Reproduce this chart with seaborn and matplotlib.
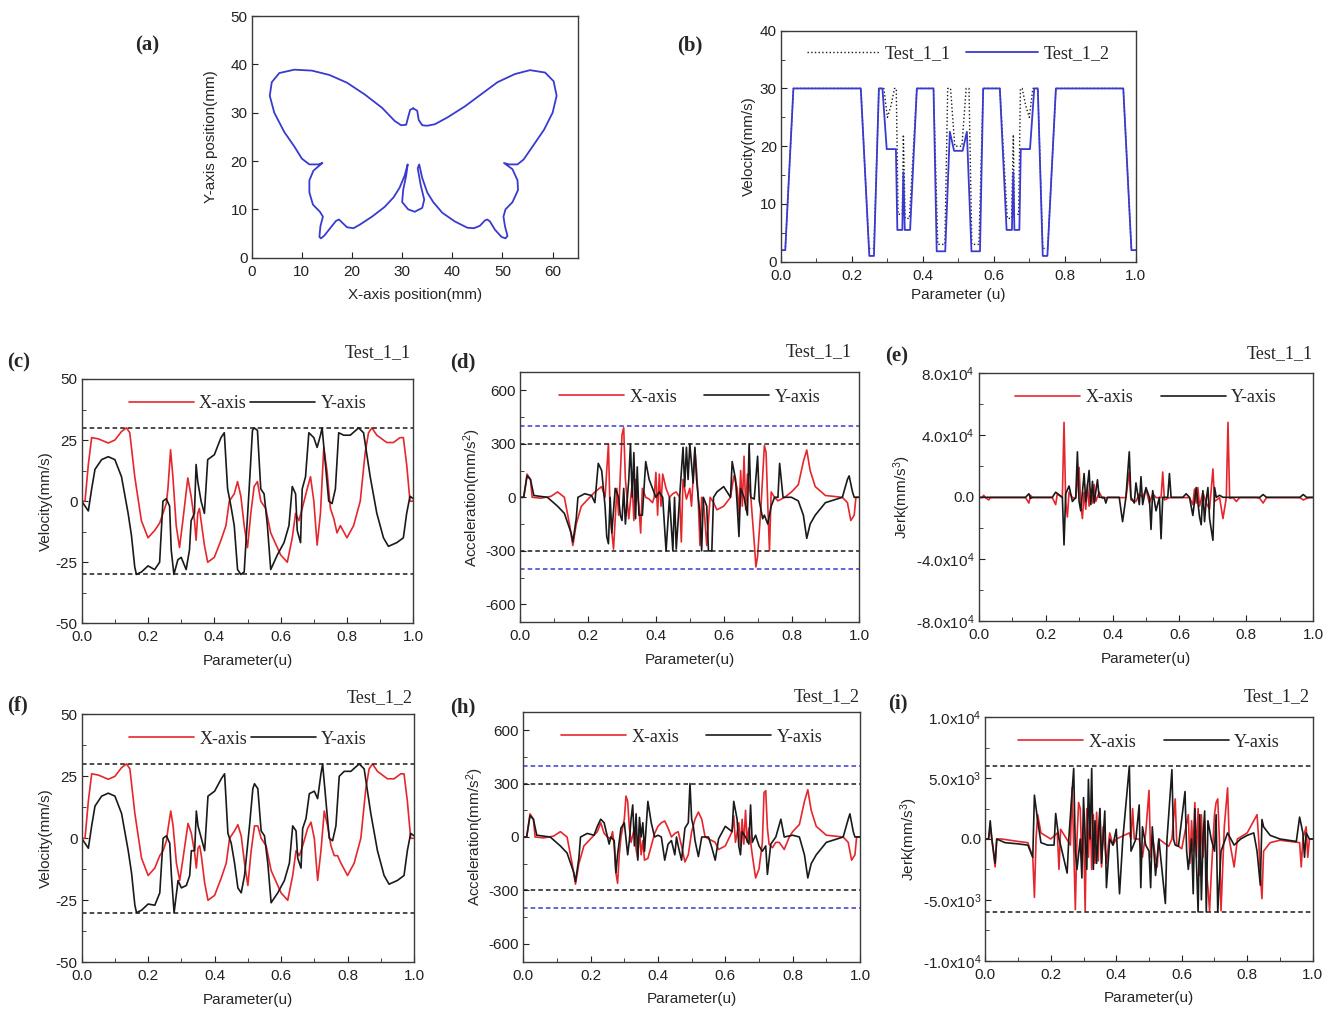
import numpy as np
import pandas as pd
import matplotlib
matplotlib.use("Agg")
import matplotlib.pyplot as plt
from matplotlib.ticker import MultipleLocator
import seaborn as sns

# ---------------- DATA ----------------
# (a) butterfly outline (mm)
bfly_x = [32.2, 33.0, 33.3, 34.0, 35.0, 36.5, 39.0, 42.5, 46.0, 49.0, 52.5, 55.5, 58.5, 60.2, 60.8,
          60.0, 58.3, 56.0, 54.2, 53.0, 51.3, 50.3, 52.0, 53.0, 53.1, 52.0, 50.6, 50.2, 50.5, 51.0,
          50.6, 49.8, 48.5, 47.5, 47.0, 46.5, 45.5, 44.3, 43.0, 40.5, 38.0, 36.2, 35.0, 34.0, 33.4,
          33.1, 33.7, 34.4, 34.0, 32.5, 31.2, 30.0, 30.2, 30.8, 31.1, 30.5, 29.5, 28.3, 26.5, 24.0,
          21.5, 20.3, 19.0, 18.0, 17.4, 16.8, 15.8, 14.5, 13.8, 13.5, 13.7, 14.2, 13.6, 12.2, 11.5,
          11.5, 12.3, 14.1, 13.3, 11.5, 10.0, 8.5, 6.5, 4.5, 3.6, 4.0, 5.5, 8.5, 12.0, 15.5,
          19.0, 22.5, 26.0, 28.5, 29.8, 30.8, 31.3, 31.6, 32.2]
bfly_y = [30.9, 30.4, 28.5, 27.4, 27.3, 27.6, 29.0, 31.3, 34.0, 36.3, 38.0, 38.8, 38.3, 36.5, 33.5,
          30.0, 26.5, 23.0, 20.3, 19.3, 19.3, 19.6, 18.3, 16.0, 14.0, 11.5, 10.0, 8.5, 6.5, 4.5,
          4.0, 4.3, 5.8, 7.5, 7.9, 7.7, 6.6, 6.1, 6.2, 7.5, 9.3, 11.5, 13.5, 16.5, 19.3,
          18.5, 15.0, 12.0, 10.3, 9.5, 10.0, 11.5, 14.0, 17.0, 19.3, 17.0, 14.5, 12.5, 10.5, 8.5,
          6.8, 6.1, 6.3, 7.3, 7.9, 7.6, 6.3, 4.6, 4.0, 4.3, 6.5, 8.5, 9.5, 11.0, 13.5,
          16.0, 18.0, 19.6, 19.3, 19.3, 20.5, 23.0, 26.0, 30.0, 33.5, 36.3, 38.2, 38.9, 38.7, 37.8,
          36.2, 33.8, 31.0, 28.3, 27.4, 27.5, 29.5, 30.6, 30.9]

# (b) feedrate profiles
b2_u = [0.0, 0.012, 0.035, 0.225, 0.249, 0.262, 0.276, 0.286, 0.298, 0.324, 0.328, 0.342, 0.345, 0.349,
        0.364, 0.383, 0.430, 0.439, 0.463, 0.476, 0.488, 0.512, 0.524, 0.537, 0.561, 0.570, 0.617,
        0.636, 0.651, 0.655, 0.658, 0.672, 0.676, 0.702, 0.714, 0.724, 0.738, 0.751, 0.775, 0.965,
        0.988, 1.0]
b2_v = [2.0, 2.0, 30, 30, 1.0, 1.0, 30, 30, 19.5, 19.5, 5.5, 5.5, 15.5, 5.5,
        5.5, 30, 30, 1.8, 1.8, 22.5, 19.2, 19.2, 22.5, 1.8, 1.8, 30, 30,
        5.5, 5.5, 15.5, 5.5, 5.5, 19.5, 19.5, 30, 30, 1.0, 1.0, 30, 30,
        2.0, 2.0]
b1_u = [0.0, 0.012, 0.035, 0.225, 0.248, 0.262, 0.276, 0.29, 0.30, 0.31, 0.32, 0.325, 0.33, 0.342,
        0.345, 0.35, 0.362, 0.383, 0.43, 0.442, 0.462, 0.47, 0.478, 0.49, 0.51, 0.522, 0.53, 0.538,
        0.558, 0.57, 0.617, 0.638, 0.65, 0.655, 0.658, 0.67, 0.675, 0.68, 0.69, 0.70, 0.71, 0.724,
        0.738, 0.752, 0.775, 0.965, 0.988, 1.0]
b1_v = [2.0, 2.0, 30, 30, 2.3, 2.3, 30, 30, 25, 27, 30, 30, 8.2, 8.2,
        22, 7.5, 7.5, 30, 30, 3, 3, 30, 30, 20, 20, 30, 30, 3,
        3, 30, 30, 7.5, 7.5, 22, 8.2, 8.2, 30, 30, 27, 25, 30, 30,
        2.3, 2.3, 30, 30, 2.0, 2.0]

# (c) axis velocities Test_1_1
c_x_u = [0.0, 0.01, 0.02, 0.03, 0.05, 0.08, 0.10, 0.12, 0.135, 0.145, 0.16, 0.18, 0.20, 0.22, 0.235,
         0.245, 0.255, 0.26, 0.268, 0.275, 0.285, 0.295, 0.305, 0.32, 0.33, 0.34, 0.345, 0.35, 0.355,
         0.36, 0.37, 0.38, 0.40, 0.42, 0.435, 0.445, 0.46, 0.47, 0.48, 0.49, 0.50, 0.51, 0.52, 0.53,
         0.54, 0.555, 0.57, 0.60, 0.62, 0.635, 0.645, 0.655, 0.665, 0.68, 0.69, 0.70, 0.71, 0.72,
         0.73, 0.74, 0.75, 0.76, 0.77, 0.78, 0.80, 0.82, 0.84, 0.855, 0.865, 0.875, 0.89, 0.92,
         0.94, 0.96, 0.97, 0.98, 0.99, 1.0]
c_x_v = [0, 0, 15, 26, 25.5, 23.8, 25, 28.5, 30, 28, 10, -8, -15, -12, -9,
         -5, -1, 5, 21, 10, -10, -19, -8, 9.5, 2, -8, -16, -5, -3,
         -8, -18, -25, -23, -16, -10, 0, 3, 8, 2, -10, -19, -5, 6, 8,
         0, -3, -13, -22, -25, -15, -5, -8, -3, 5, 10, 0, -18, -5,
         22, 12, -3, -7, -13, -10, -15, -10, 0, 20, 28, 30, 27, 24,
         24, 26, 26, 15, 0, 0]
c_y_u = [0.0, 0.01, 0.02, 0.03, 0.04, 0.06, 0.08, 0.10, 0.12, 0.14, 0.15, 0.16, 0.165, 0.18, 0.20,
         0.22, 0.235, 0.245, 0.255, 0.265, 0.27, 0.278, 0.29, 0.30, 0.315, 0.325, 0.33, 0.34, 0.345,
         0.35, 0.36, 0.37, 0.38, 0.40, 0.42, 0.43, 0.44, 0.45, 0.46, 0.47, 0.48, 0.49, 0.505, 0.515,
         0.52, 0.53, 0.54, 0.55, 0.56, 0.57, 0.59, 0.61, 0.625, 0.635, 0.645, 0.65, 0.66, 0.665,
         0.675, 0.685, 0.70, 0.71, 0.72, 0.725, 0.735, 0.745, 0.755, 0.765, 0.775, 0.79, 0.81, 0.835,
         0.85, 0.87, 0.89, 0.91, 0.925, 0.95, 0.97, 0.98, 0.99, 1.0]
c_y_v = [0, -2, -4, 5, 13, 17, 18.2, 17, 10, -5, -14, -27, -30, -29, -26.5,
         -28, -25, 0, 1, -2, -20, -30, -24, -23, -28, -20, -8, -5, 15,
         8, 0, -5, 17, 19, 26, 28, 5, -2, -10, -28, -30, -29, 5, 29,
         30, 29, 5, 3, -10, -28, -22, -17, -10, 6, 3, -12, -17, 5,
         10, 28, 26, 22, 27, 30, 15, 0, -1, 5, 28, 27, 27, 30,
         28, 10, -5, -15, -18.5, -17, -15, -5, 2, 1]

# (f) axis velocities Test_1_2
f_x_u = c_x_u
f_x_v = [0, 0, 15, 26, 25.5, 23.8, 25, 28.5, 30, 28, 10, -8, -15, -12, -7,
         -5, -1, 4, 11, 5, -10, -17, -8, 6, 2, -6, -12, -4, -3,
         -7, -18, -25, -23, -16, -10, 0, 3, 5.5, 1, -10, -19, -5, 5, 5,
         0, -3, -13, -22, -25, -15, -5, -7, -3, 4, 6.5, 0, -17, -5,
         11, 5, -3, -7, -7, -10, -15, -10, 0, 20, 28, 30, 27, 24,
         24, 26, 26, 15, 0, 0]
f_y_u = c_y_u
f_y_v = [0, -2, -4, 5, 13, 17, 18.2, 17, 10, -5, -14, -27, -30, -29, -26.5,
         -27, -22, 0, 1, -2, -15, -30, -17, -20, -19, -15, -5, -5, 11,
         5, 0, -5, 17, 19, 24, 26, 2, -2, -10, -20, -22, -15, 5, 20,
         22, 20, 3, 1, -10, -26, -22, -17, -10, 5, 3, -8, -12, 4,
         8, 18, 19, 16, 26, 30, 15, 0, -1, 5, 25, 27, 27, 30,
         28, 10, -5, -15, -18.5, -17, -15, -5, 2, 1]

# (d) accelerations Test_1_1
d_x_u = [0.0, 0.01, 0.02, 0.03, 0.035, 0.06, 0.09, 0.11, 0.13, 0.145, 0.155, 0.165, 0.18, 0.20, 0.22,
         0.24, 0.25, 0.26, 0.265, 0.275, 0.285, 0.29, 0.30, 0.305, 0.31, 0.32, 0.33, 0.335, 0.34,
         0.35, 0.355, 0.36, 0.37, 0.38, 0.39, 0.395, 0.40, 0.405, 0.41, 0.415, 0.42, 0.43, 0.44,
         0.45, 0.46, 0.47, 0.475, 0.48, 0.49, 0.50, 0.505, 0.515, 0.52, 0.525, 0.53, 0.535, 0.54,
         0.55, 0.56, 0.57, 0.58, 0.60, 0.62, 0.63, 0.64, 0.645, 0.65, 0.655, 0.66, 0.665, 0.67,
         0.68, 0.69, 0.695, 0.70, 0.71, 0.72, 0.725, 0.73, 0.735, 0.74, 0.75, 0.76, 0.78, 0.80,
         0.82, 0.835, 0.845, 0.855, 0.87, 0.90, 0.95, 0.965, 0.975, 0.985, 0.99, 1.0]
d_x_v = [0, 0, 130, 100, 0, -5, 5, 30, 0, -150, -270, -150, -50, -10, 30,
         60, 0, 300, -100, -290, 50, -100, 350, 390, 100, -120, 80, -130, 100,
         -50, -200, 50, 0, -10, -30, 0, 140, -100, 130, -50, 130, 50, 0,
         20, 30, 0, -250, 100, -10, 50, -50, 270, 150, -20, -270, 0, -10,
         -270, 0, -30, -70, -50, 0, 120, 50, -100, 150, -50, 230, -70, 130,
         0, -250, -390, -330, -50, 290, 250, -40, -300, 30, 0, -20, 0, 30,
         70, 200, 265, 150, 60, 10, 0, -30, -130, -100, 0, 0]
d_y_u = [0.0, 0.01, 0.02, 0.03, 0.04, 0.08, 0.11, 0.13, 0.15, 0.155, 0.165, 0.17, 0.19, 0.21, 0.22,
         0.23, 0.24, 0.25, 0.255, 0.26, 0.265, 0.27, 0.28, 0.29, 0.295, 0.30, 0.305, 0.31, 0.32,
         0.325, 0.33, 0.335, 0.34, 0.345, 0.35, 0.36, 0.37, 0.38, 0.39, 0.40, 0.41, 0.42, 0.43,
         0.44, 0.45, 0.455, 0.46, 0.47, 0.48, 0.485, 0.49, 0.495, 0.50, 0.51, 0.515, 0.52, 0.53,
         0.535, 0.54, 0.55, 0.555, 0.565, 0.57, 0.58, 0.60, 0.62, 0.625, 0.635, 0.64, 0.645, 0.65,
         0.66, 0.67, 0.675, 0.68, 0.69, 0.70, 0.705, 0.715, 0.72, 0.73, 0.74, 0.75, 0.76, 0.765,
         0.775, 0.80, 0.82, 0.835, 0.845, 0.855, 0.87, 0.90, 0.95, 0.965, 0.97, 0.98, 0.985, 1.0]
d_y_v = [0, 0, 120, 100, 10, 0, -50, -90, -200, -250, -120, 0, 20, 10, -30,
         190, 150, -50, -220, -260, 0, -200, 50, 0, -100, -130, 50, -150, 100,
         300, 0, 250, -120, 170, -100, -100, 200, 100, 50, 0, 30, 0, -300,
         0, -300, 0, -290, 0, 280, 60, 280, 100, 300, 80, 280, 100, -100,
         -300, 0, -50, -300, -300, 0, 30, 60, 0, 200, 100, -50, -220, 50,
         0, -100, 300, 0, -10, 230, -20, -120, -100, -150, -50, 0, 0, 190,
         0, 0, -20, -100, -230, -150, -100, -30, 0, 100, 120, 30, 0, 0]

# (h) accelerations Test_1_2
h_x_u = [0.0, 0.01, 0.02, 0.03, 0.035, 0.06, 0.09, 0.11, 0.13, 0.145, 0.155, 0.165, 0.18, 0.20, 0.22,
         0.23, 0.24, 0.25, 0.26, 0.265, 0.27, 0.275, 0.28, 0.285, 0.29, 0.30, 0.305, 0.31, 0.315,
         0.32, 0.33, 0.335, 0.34, 0.345, 0.35, 0.355, 0.36, 0.37, 0.38, 0.39, 0.40, 0.41, 0.42,
         0.43, 0.44, 0.45, 0.46, 0.47, 0.48, 0.49, 0.50, 0.51, 0.52, 0.53, 0.54, 0.55, 0.57,
         0.58, 0.60, 0.62, 0.625, 0.63, 0.64, 0.645, 0.65, 0.655, 0.66, 0.665, 0.67, 0.68, 0.69,
         0.70, 0.71, 0.715, 0.72, 0.725, 0.73, 0.74, 0.75, 0.76, 0.775, 0.79, 0.80, 0.82, 0.835,
         0.845, 0.855, 0.87, 0.90, 0.95, 0.965, 0.975, 0.985, 0.99, 1.0]
h_x_v = [0, 0, 130, 100, 0, -5, 5, 30, 0, -150, -265, -150, -50, -10, 30,
         80, 20, 0, -10, 30, -50, -200, -260, -100, 0, 100, 230, 200, 50,
         -30, 50, -70, -120, 50, -100, -20, -130, -120, -50, 20, 60, 80, 90,
         50, 0, 20, 30, -50, -140, -100, 30, 100, 140, 100, 0, -10, -30,
         -70, -50, 30, 120, -30, 80, -50, 100, -40, 150, -30, 50, -100, -230,
         -180, -30, 250, 260, 50, -40, -60, -30, -30, -70, 0, 30, 70, 200,
         265, 150, 60, 10, 0, -30, -130, -100, 0, 0]
h_y_u = [0.0, 0.01, 0.02, 0.03, 0.04, 0.08, 0.11, 0.13, 0.15, 0.155, 0.165, 0.17, 0.19, 0.21, 0.22,
         0.23, 0.24, 0.25, 0.255, 0.26, 0.27, 0.275, 0.28, 0.29, 0.30, 0.31, 0.315, 0.32, 0.325,
         0.33, 0.335, 0.34, 0.345, 0.35, 0.355, 0.36, 0.37, 0.38, 0.39, 0.40, 0.41, 0.42, 0.43,
         0.44, 0.45, 0.455, 0.46, 0.47, 0.48, 0.49, 0.495, 0.50, 0.505, 0.51, 0.52, 0.53, 0.55,
         0.56, 0.57, 0.58, 0.60, 0.62, 0.625, 0.635, 0.64, 0.645, 0.65, 0.66, 0.67, 0.675, 0.68,
         0.69, 0.70, 0.71, 0.72, 0.725, 0.735, 0.75, 0.765, 0.775, 0.80, 0.82, 0.835, 0.845, 0.855,
         0.87, 0.90, 0.95, 0.965, 0.97, 0.98, 0.985, 1.0]
h_y_v = [0, 0, 120, 100, 10, 0, -50, -90, -200, -250, -120, 0, 20, 10, 60,
         100, 80, 0, -40, 0, -20, -200, -100, 50, 80, -100, -20, 100, 180,
         -50, 130, -130, 110, 0, 80, -80, 200, 80, 0, 10, 0, -130, -40,
         -20, -100, 0, -50, -130, 50, 80, 300, 100, 60, -20, -110, 0, 0,
         -60, -130, -10, 60, 30, 200, 100, -50, -100, 30, 0, -40, 180, -30,
         10, -50, -80, -50, -210, -40, 0, 100, 0, 10, 0, -100, -230, -150,
         -100, -30, 0, 100, 130, 30, 0, 0]

# (e) jerk Test_1_1
e_x_u = [0.0, 0.01, 0.015, 0.02, 0.03, 0.035, 0.14, 0.15, 0.155, 0.16, 0.22, 0.23, 0.235, 0.25,
         0.255, 0.26, 0.265, 0.27, 0.28, 0.29, 0.30, 0.305, 0.31, 0.315, 0.32, 0.325, 0.33, 0.335,
         0.34, 0.345, 0.35, 0.36, 0.37, 0.38, 0.44, 0.45, 0.455, 0.47, 0.48, 0.49, 0.50, 0.51,
         0.52, 0.53, 0.545, 0.55, 0.555, 0.57, 0.63, 0.64, 0.645, 0.65, 0.655, 0.66, 0.67, 0.68,
         0.69, 0.70, 0.705, 0.72, 0.73, 0.74, 0.745, 0.75, 0.76, 0.77, 0.78, 0.83, 0.84, 0.85,
         0.86, 0.96, 0.97, 0.98, 0.99, 1.0]
e_x_v = [-500, -500, 1000, -500, -2000, -500, -500, -4000, 1000, -500, -500, -5000, 2000, -500,
         48000, -3000, -13000, 3000, -500, -1000, 19000, -5000, -14000, 3000, -8000, 8000, -6000, 5000,
         -4000, 8000, -3000, 3000, -1000, -500, -500, 16000, -2000, -3000, 2000, -500, 5000, -4000,
         2000, -500, -500, 16000, -2000, -500, -500, -5000, 5000, -4000, 6000, -6000, 3000, -4000,
         -8000, 18000, -3000, -500, -14000, -500, 48000, -1000, -500, -3000, -500, -500, -1000, -4000,
         -500, -500, -2000, -1000, -500, -500]
e_y_u = [0.0, 0.14, 0.15, 0.155, 0.16, 0.22, 0.23, 0.25, 0.255, 0.26, 0.27, 0.28, 0.29, 0.295,
         0.30, 0.305, 0.315, 0.32, 0.33, 0.335, 0.34, 0.345, 0.355, 0.36, 0.375, 0.38, 0.385, 0.42,
         0.43, 0.44, 0.45, 0.455, 0.465, 0.47, 0.48, 0.485, 0.49, 0.50, 0.51, 0.515, 0.52, 0.53,
         0.54, 0.545, 0.55, 0.565, 0.57, 0.575, 0.61, 0.62, 0.63, 0.64, 0.65, 0.66, 0.665, 0.67,
         0.675, 0.68, 0.685, 0.69, 0.70, 0.705, 0.71, 0.72, 0.73, 0.84, 0.85, 0.86, 0.96, 0.97,
         0.98, 1.0]
e_y_v = [-300, -300, 2000, -1000, -300, -300, 3000, -300, -31000, 2000, 7000, -3000, -300, 29000,
         -3000, -9000, 15000, -3000, 17000, -5000, 10000, -4000, 11000, -300, -300, -4000, -300, -300,
         -16000, -300, 29000, -300, -4000, 9000, -5000, 13000, -5000, 6000, -300, -21000, 4000, -9000,
         -300, -27000, -300, -300, 15000, -300, -300, 2000, -300, -12000, 6000, -13000, -18000, 4000,
         -16000, -2000, 6000, -14000, -28000, 6000, -300, 1000, -300, -300, 1500, -300, -300, 1500,
         -300, -300]

# (i) jerk Test_1_2
i_x_u = [0.0, 0.01, 0.015, 0.02, 0.03, 0.035, 0.05, 0.10, 0.13, 0.145, 0.15, 0.155, 0.16, 0.17,
         0.20, 0.22, 0.225, 0.23, 0.26, 0.265, 0.27, 0.275, 0.28, 0.285, 0.29, 0.295, 0.30, 0.305,
         0.31, 0.315, 0.32, 0.325, 0.33, 0.335, 0.34, 0.345, 0.35, 0.355, 0.36, 0.37, 0.38, 0.39,
         0.40, 0.44, 0.445, 0.45, 0.455, 0.47, 0.48, 0.49, 0.50, 0.505, 0.51, 0.52, 0.525, 0.53,
         0.56, 0.57, 0.58, 0.585, 0.60, 0.62, 0.625, 0.63, 0.635, 0.64, 0.645, 0.65, 0.655, 0.66,
         0.665, 0.67, 0.675, 0.68, 0.685, 0.69, 0.70, 0.705, 0.71, 0.715, 0.72, 0.73, 0.74, 0.745,
         0.76, 0.77, 0.80, 0.82, 0.83, 0.835, 0.84, 0.845, 0.85, 0.87, 0.90, 0.96, 0.965, 0.97,
         0.98, 0.985, 0.99, 1.0]
i_x_v = [0, 0, 1000, 0, -2300, 0, 0, -200, -300, -1500, -4800, 0, 2000, 500,
         0, 500, -2500, 800, -500, 4200, -500, -5800, 0, 3000, 2500, -2000, 1000, -5900,
         2500, -1500, 2500, -2500, 2000, -2000, 2200, -1800, 2500, -2300, 1000, -2000, 500, -500,
         0, 500, 0, 2500, 0, 0, -1500, 500, 4000, -1500, 300, -1500, -2300, 0,
         -600, 0, 3300, -500, -800, 2000, -2000, 1500, -1000, 3000, -1500, 2500, -3000, 2000,
         -1500, 1500, -2500, -4000, -5900, -3000, 2000, 3000, 3300, 0, -5900, 1000, 4200, 0,
         -2300, 0, 500, 1500, 2000, 0, -3000, -4900, -1000, -300, -100, -300, -2300, 0,
         1000, -1500, 0, 0]
i_y_u = [0.0, 0.01, 0.015, 0.02, 0.03, 0.035, 0.06, 0.10, 0.13, 0.145, 0.15, 0.16, 0.17, 0.19,
         0.21, 0.215, 0.22, 0.225, 0.23, 0.25, 0.255, 0.27, 0.275, 0.28, 0.29, 0.295, 0.30, 0.305,
         0.31, 0.315, 0.32, 0.325, 0.33, 0.335, 0.34, 0.35, 0.355, 0.365, 0.37, 0.38, 0.39, 0.40,
         0.41, 0.42, 0.44, 0.445, 0.46, 0.47, 0.475, 0.48, 0.49, 0.50, 0.505, 0.51, 0.52, 0.53,
         0.55, 0.555, 0.57, 0.575, 0.58, 0.59, 0.61, 0.615, 0.62, 0.63, 0.635, 0.64, 0.645, 0.65,
         0.655, 0.66, 0.665, 0.67, 0.675, 0.68, 0.69, 0.70, 0.705, 0.71, 0.72, 0.74, 0.76, 0.78,
         0.80, 0.82, 0.83, 0.84, 0.845, 0.85, 0.87, 0.90, 0.95, 0.96, 0.97, 0.975, 0.98, 0.99, 1.0]
i_y_v = [0, 0, 1500, 0, -2000, 0, -300, -400, -500, -1500, 3600, 1500, -300, -500,
         -500, 2100, 1000, 0, -500, -2800, 0, 5800, -1000, -2500, 0, -3200, 3400, 0,
         -2500, 4900, 0, 5800, -2500, 1500, -2000, 2500, -2000, 2300, -4000, 0, -500, 800,
         -4500, 0, 6000, -1000, 0, 2800, -4000, 1000, -500, -1000, -4000, 1000, -3000, 0,
         -5300, 0, 5700, 0, -500, -600, 3900, -1000, -2500, 0, -4500, 2500, -2000, -6000,
         2000, -5000, 0, 2300, -6000, 1500, 0, -1000, 2000, -6000, -1000, 500, -500, 0,
         300, 500, -1000, -3800, 1600, 1000, 300, 0, -200, 1800, 500, -1500, 500, 0, 0]

# ---------------- STYLE ----------------
sns.set_style("ticks")
plt.rcParams["font.family"] = ["Liberation Sans", "DejaVu Sans"]
plt.rcParams["mathtext.fontset"] = "custom"
plt.rcParams["mathtext.rm"] = "Liberation Sans"
plt.rcParams["mathtext.it"] = "Liberation Sans"
plt.rcParams["axes.unicode_minus"] = False

RED = "#e5272d"
BLK = "#1a1a1a"
BLUE = "#3a3ad0"
SERIF = ["Liberation Serif", "DejaVu Serif"]
TICK_FS = 11
LAB_FS = 11

W, H = 1339, 1011
fig = plt.figure(figsize=(W / 100, H / 100), dpi=100)


def add_ax(l, t, r, b):
    return fig.add_axes([l / W, 1 - b / H, (r - l) / W, (b - t) / H])


def style(ax, xminor=0.1, yminor=None):
    for s in ax.spines.values():
        s.set_color("#3a3a3a")
        s.set_linewidth(1.0)
    ax.tick_params(which="both", direction="in", top=False, right=False,
                   labelsize=TICK_FS, colors="#222222")
    ax.tick_params(which="major", length=4)
    ax.tick_params(which="minor", length=3)
    ax.tick_params(axis="x", pad=5)
    ax.tick_params(axis="y", pad=3)
    ax.xaxis.set_minor_locator(MultipleLocator(xminor))
    if yminor is not None:
        ax.yaxis.set_minor_locator(MultipleLocator(yminor))
    ax.grid(False)


def panel_label(x, y, s):
    fig.text(x / W, 1 - y / H, s, fontsize=15, fontweight="bold",
             family=SERIF, ha="left", va="center")


def test_label(x, y, s):
    fig.text(x / W, 1 - y / H, s, fontsize=13, family=SERIF, ha="right", va="center")


def xy_legend(ax, colsp=1.0):
    return ax.legend(loc="upper center", ncol=2, frameon=False, handlelength=3.6,
                     columnspacing=colsp, handletextpad=0.3, borderaxespad=0.5,
                     prop={"family": SERIF, "size": 13})


def line(ax, x, y, color, lw=1.2, label=None, ls="-"):
    sns.lineplot(x=x, y=y, ax=ax, color=color, lw=lw, label=label, sort=False,
                 estimator=None, linestyle=ls)


# (a)
ax = add_ax(251.7, 16, 577.7, 257.7)
line(ax, bfly_x, bfly_y, BLUE, lw=1.3)
ax.set_xlim(0, 65)
ax.set_ylim(0, 50)
ax.set_xticks([0, 10, 20, 30, 40, 50, 60])
ax.set_yticks([0, 10, 20, 30, 40, 50])
style(ax, xminor=5, yminor=5)
ax.tick_params(which="minor", length=0)
ax.set_xlabel("X-axis position(mm)", fontsize=LAB_FS, labelpad=7)
ax.set_ylabel("Y-axis position(mm)", fontsize=LAB_FS, labelpad=9)
panel_label(135, 45, "(a)")

# (b)
ax = add_ax(781, 30.7, 1135.7, 261.7)
line(ax, b1_u, b1_v, BLK, lw=1.0, label="Test_1_1", ls=":")
line(ax, b2_u, b2_v, BLUE, lw=1.3, label="Test_1_2")
ax.set_xlim(0, 1)
ax.set_ylim(0, 40)
ax.set_xticks([0, 0.2, 0.4, 0.6, 0.8, 1.0])
ax.set_yticks([0, 10, 20, 30, 40])
style(ax, yminor=5)
ax.set_xlabel("Parameter (u)", fontsize=LAB_FS, labelpad=4)
ax.set_ylabel("Velocity(mm/s)", fontsize=LAB_FS, labelpad=3)
ax.legend(loc="upper center", ncol=2, frameon=False, handlelength=4.0,
          columnspacing=0.8, handletextpad=0.3, borderaxespad=0.4,
          prop={"family": SERIF, "size": 13})
panel_label(677, 45, "(b)")


def vel_panel(box, xu, xv, yu, yv, lab, tl, tlpos, lbpos):
    ax = add_ax(*box)
    line(ax, xu, xv, RED, label="X-axis")
    line(ax, yu, yv, BLK, label="Y-axis")
    for v in (30, -30):
        ax.axhline(v, color=BLK, ls=(0, (3, 2)), lw=1.1)
    ax.set_xlim(0, 1)
    ax.set_ylim(-50, 50)
    ax.set_xticks([0, 0.2, 0.4, 0.6, 0.8, 1.0])
    ax.set_yticks([-50, -25, 0, 25, 50])
    style(ax, yminor=12.5)
    ax.set_xlabel("Parameter(u)", fontsize=LAB_FS, labelpad=7)
    ax.set_ylabel("Velocity(mm/s)", fontsize=LAB_FS, labelpad=2)
    xy_legend(ax, colsp=0.2)
    panel_label(lbpos[0], lbpos[1], lab)
    test_label(tlpos[0], tlpos[1], tl)


def acc_panel(box, xu, xv, yu, yv, lab, tl, tlpos, lbpos):
    ax = add_ax(*box)
    line(ax, xu, xv, RED, label="X-axis")
    line(ax, yu, yv, BLK, label="Y-axis")
    for v in (300, -300):
        ax.axhline(v, color=BLK, ls=(0, (3, 2)), lw=1.1)
    for v in (400, -400):
        ax.axhline(v, color=BLUE, ls=(0, (3, 2)), lw=1.1)
    ax.set_xlim(0, 1)
    ax.set_ylim(-700, 700)
    ax.set_xticks([0, 0.2, 0.4, 0.6, 0.8, 1.0])
    ax.set_yticks([-600, -300, 0, 300, 600])
    style(ax, yminor=150)
    ax.set_xlabel("Parameter(u)", fontsize=LAB_FS, labelpad=7)
    ax.set_ylabel("Acceleration(mm/s$^{2}$)", fontsize=LAB_FS, labelpad=2)
    xy_legend(ax, colsp=1.5)
    panel_label(lbpos[0], lbpos[1], lab)
    test_label(tlpos[0], tlpos[1], tl)


vel_panel((81.7, 379, 413.3, 623.3), c_x_u, c_x_v, c_y_u, c_y_v, "(c)", "Test_1_1",
          (411, 353), (7, 362))
acc_panel((520.3, 372.3, 859.3, 622.3), d_x_u, d_x_v, d_y_u, d_y_v, "(d)", "Test_1_1",
          (852, 352), (450, 362))

# (e)
ax = add_ax(978.7, 372.7, 1313.3, 621)
line(ax, e_x_u, e_x_v, RED, label="X-axis")
line(ax, e_y_u, e_y_v, BLK, label="Y-axis")
ax.set_xlim(0, 1)
ax.set_ylim(-80000, 80000)
ax.set_xticks([0, 0.2, 0.4, 0.6, 0.8, 1.0])
ax.set_yticks([-80000, -40000, 0, 40000, 80000],
              [r"-8.0x10$^{4}$", r"-4.0x10$^{4}$", "0.0", r"4.0x10$^{4}$", r"8.0x10$^{4}$"])
style(ax, yminor=20000)
ax.set_xlabel("Parameter(u)", fontsize=LAB_FS, labelpad=7)
ax.set_ylabel("Jerk(mm/s$^{3}$)", fontsize=LAB_FS, labelpad=2)
xy_legend(ax, colsp=1.5)
panel_label(885, 356, "(e)")
test_label(1313, 354, "Test_1_1")

vel_panel((81.7, 714.3, 414, 962.3), f_x_u, f_x_v, f_y_u, f_y_v, "(f)", "Test_1_2",
          (413, 698), (7, 705))
acc_panel((523.3, 712.3, 860, 961.7), h_x_u, h_x_v, h_y_u, h_y_v, "(h)", "Test_1_2",
          (860, 697), (450, 707))

# (i)
ax = add_ax(985.3, 717.3, 1312.7, 960.7)
line(ax, i_x_u, i_x_v, RED, label="X-axis")
line(ax, i_y_u, i_y_v, BLK, label="Y-axis")
for v in (6000, -6000):
    ax.axhline(v, color=BLK, ls=(0, (3, 2)), lw=1.1)
ax.set_xlim(0, 1)
ax.set_ylim(-10000, 10000)
ax.set_xticks([0, 0.2, 0.4, 0.6, 0.8, 1.0])
ax.set_yticks([-10000, -5000, 0, 5000, 10000],
              [r"-1.0x10$^{4}$", r"-5.0x10$^{3}$", "0.0", r"5.0x10$^{3}$", r"1.0x10$^{4}$"])
style(ax, yminor=2500)
ax.set_xlabel("Parameter(u)", fontsize=LAB_FS, labelpad=7)
ax.set_ylabel("Jerk(mm/s$^{3}$)", fontsize=LAB_FS, labelpad=2)
xy_legend(ax, colsp=1.5)
panel_label(888, 703, "(i)")
test_label(1310, 697, "Test_1_2")

fig.savefig("out.png", dpi=100, facecolor="white")
